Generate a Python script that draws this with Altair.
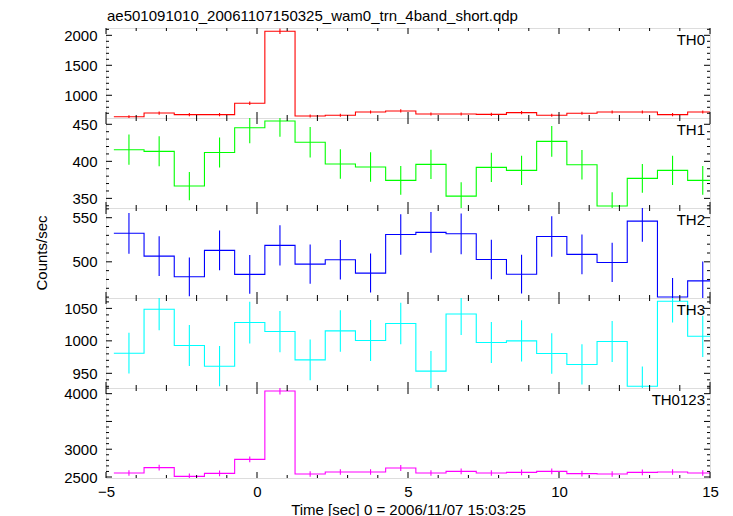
import altair as alt
import pandas as pd

# ---------------- data ----------------
time_center = [-4.24, -3.24, -2.24, -1.24, -0.24, 0.76, 1.76, 2.76, 3.76, 4.76,
               5.76, 6.76, 7.76, 8.76, 9.76, 10.76, 11.76, 12.76, 13.76, 14.76]
bin_half = 0.5

th0 = [643, 704, 677, 677, 866, 2068, 654, 666, 721, 738,
       688, 688, 682, 710, 666, 700, 721, 721, 677, 721]
th0_err = [25, 27, 26, 26, 29, 45, 26, 26, 27, 27,
           26, 26, 26, 27, 26, 26, 27, 27, 26, 27]

th1 = [415.7, 413.5, 366.6, 412.0, 445.4, 454.4, 425.7, 396.4, 392.3, 374.3,
       395.9, 353.0, 391.9, 387.8, 427.0, 395.4, 339.8, 377.0, 387.8, 374.3]
th1_err = [20.4, 20.3, 19.1, 20.3, 21.1, 21.3, 20.6, 19.9, 19.8, 19.3,
           19.9, 18.8, 19.8, 19.7, 20.7, 19.9, 18.4, 19.4, 19.7, 19.3]

th2 = [532.3, 506.5, 483.0, 513.0, 485.8, 518.6, 497.4, 502.3, 487.2, 531.0,
       533.4, 531.8, 502.7, 486.0, 528.7, 508.4, 499.3, 546.1, 460.2, 478.4]
th2_err = [23.1, 22.5, 22.0, 22.6, 22.0, 22.8, 22.3, 22.4, 22.1, 23.0,
           23.1, 23.1, 22.4, 22.0, 23.0, 22.5, 22.3, 23.4, 21.5, 21.9]

th3 = [981.0, 1048.7, 992.9, 961.0, 1028.2, 1014.3, 970.7, 1015.3, 1000.5, 1026.7,
       953.4, 1041.4, 997.4, 1000.0, 980.5, 963.6, 999.0, 930.0, 1061.0, 1007.0]
th3_err = [31.3, 32.4, 31.5, 31.0, 32.1, 31.8, 31.2, 31.9, 31.6, 32.0,
           30.9, 32.3, 31.6, 31.6, 31.3, 31.0, 31.6, 30.5, 32.6, 31.7]

th0123 = [2572, 2668, 2512, 2566, 2818, 4048, 2554, 2590, 2590, 2662,
          2572, 2602, 2572, 2584, 2602, 2560, 2554, 2584, 2590, 2572]
th0123_err = [51, 52, 50, 51, 53, 64, 51, 51, 51, 52,
              51, 51, 51, 51, 51, 51, 51, 51, 51, 51]

panel_names = ["TH0", "TH1", "TH2", "TH3", "TH0123"]
panel_colors = ["#ff0000", "#00ff00", "#0000ff", "#00ffff", "#ff00ff"]
panel_domains = [[621, 2122], [337, 458.5], [459, 561], [927.4, 1066], [2482, 4102]]
panel_labels = [[1000, 1500, 2000], [350, 400, 450], [500, 550], [950, 1000, 1050], [2500, 3000, 4000]]
panel_minor_step = [100, 10, 10, 10, 100]
panel_major_step = [500, 50, 50, 50, 500]

x_labels = [-5, 0, 5, 10, 15]
x_ticks = list(range(-5, 16))

title_text = "ae501091010_20061107150325_wam0_trn_4band_short.qdp"
y_title = "Counts/sec"
x_title = "Time [sec] 0 = 2006/11/07 15:03:25"

W = 604
H = 90
FONT = "Liberation Sans"
FS = 15


def panel(idx, values, errs, show_x):
    color = panel_colors[idx]
    lo_d, hi_d = panel_domains[idx]
    df = pd.DataFrame({"t": time_center, "v": values, "e": errs})
    df["lo"] = df["v"] - df["e"]
    df["hi"] = df["v"] + df["e"]
    step = pd.DataFrame({
        "t": [c - bin_half for c in time_center] + [time_center[-1] + bin_half],
        "v": list(values) + [values[-1]],
    })
    xscale = alt.Scale(domain=[-5, 15], nice=False, zero=False)
    yscale = alt.Scale(domain=[lo_d, hi_d], nice=False, zero=False)
    if show_x:
        xaxis = alt.Axis(values=x_labels, format="d", tickSize=0, domain=False, grid=False,
                         labelFontSize=FS, labelFont=FONT, labelPadding=6,
                         labelColor="black", title=x_title, titleFontSize=FS,
                         titleFont=FONT, titleFontWeight="normal", titlePadding=3,
                         titleColor="black", labelFlush=False)
    else:
        xaxis = None
    yaxis = alt.Axis(values=panel_labels[idx], format="d", tickSize=0, domain=False,
                     grid=False, labelFontSize=FS, labelFont=FONT, labelPadding=9,
                     labelColor="black", title=None, labelFlush=False)

    X = lambda f: alt.X(f, type="quantitative", scale=xscale, axis=xaxis)
    Y = lambda f: alt.Y(f, type="quantitative", scale=yscale, axis=yaxis)

    line = alt.Chart(step).mark_line(interpolate="step-after", clip=True,
                                     color=color, strokeWidth=1.1).encode(x=X("t"), y=Y("v"))
    err = alt.Chart(df).mark_rule(clip=True, color=color, strokeWidth=1.1).encode(
        x=X("t"), y=Y("lo"), y2="hi")

    minor_s = panel_minor_step[idx]
    major_s = panel_major_step[idx]
    start = int((lo_d // minor_s + 1) * minor_s)
    yt = [v for v in range(start, int(hi_d) + 1, minor_s)]
    yt_major = [v for v in yt if v % major_s == 0]
    yt_minor = [v for v in yt if v % major_s != 0]
    xt_major = [v for v in x_ticks if v % 5 == 0]
    xt_minor = [v for v in x_ticks if v % 5 != 0]

    layers = [line, err]
    for vals, ln in ((xt_minor, 3), (xt_major, 6)):
        d = pd.DataFrame({"t": vals})
        layers.append(alt.Chart(d).mark_rule(color="black", strokeWidth=1).encode(
            x=X("t"), y=alt.value(0), y2=alt.value(ln)))
        layers.append(alt.Chart(d).mark_rule(color="black", strokeWidth=1).encode(
            x=X("t"), y=alt.value(H), y2=alt.value(H - ln)))
    for vals, ln in ((yt_minor, 3), (yt_major, 6)):
        d = pd.DataFrame({"v": vals})
        layers.append(alt.Chart(d).mark_rule(color="black", strokeWidth=1).encode(
            y=Y("v"), x=alt.value(0), x2=alt.value(ln)))
        layers.append(alt.Chart(d).mark_rule(color="black", strokeWidth=1).encode(
            y=Y("v"), x=alt.value(W), x2=alt.value(W - ln)))

    one = pd.DataFrame({"a": [0]})
    layers.append(alt.Chart(one).mark_text(text=panel_names[idx], align="right",
                                           baseline="middle", fontSize=FS, font=FONT,
                                           color="black").encode(
        x=alt.value(W - 5), y=alt.value(12)))
    if idx == 0:
        layers.append(alt.Chart(one).mark_text(text=title_text, align="left",
                                               baseline="middle", fontSize=FS, font=FONT,
                                               color="black").encode(
            x=alt.value(1), y=alt.value(-12)))
    if idx == 2:
        layers.append(alt.Chart(one).mark_text(text=y_title, align="center",
                                               baseline="middle", fontSize=FS, font=FONT,
                                               angle=270, color="black").encode(
            x=alt.value(-64), y=alt.value(45)))
    return alt.layer(*layers).properties(width=W, height=H)


series = [(th0, th0_err), (th1, th1_err), (th2, th2_err), (th3, th3_err), (th0123, th0123_err)]
panels = [panel(i, v, e, i == 4) for i, (v, e) in enumerate(series)]

chart = alt.vconcat(*panels, spacing=0, bounds="flush").properties(
    padding={"left": 26, "top": 0, "right": 5, "bottom": 2}
).configure_view(stroke="black", strokeWidth=1.2).configure(background="white")

chart.save("out.html", embed_options={"renderer": "svg", "actions": False})
